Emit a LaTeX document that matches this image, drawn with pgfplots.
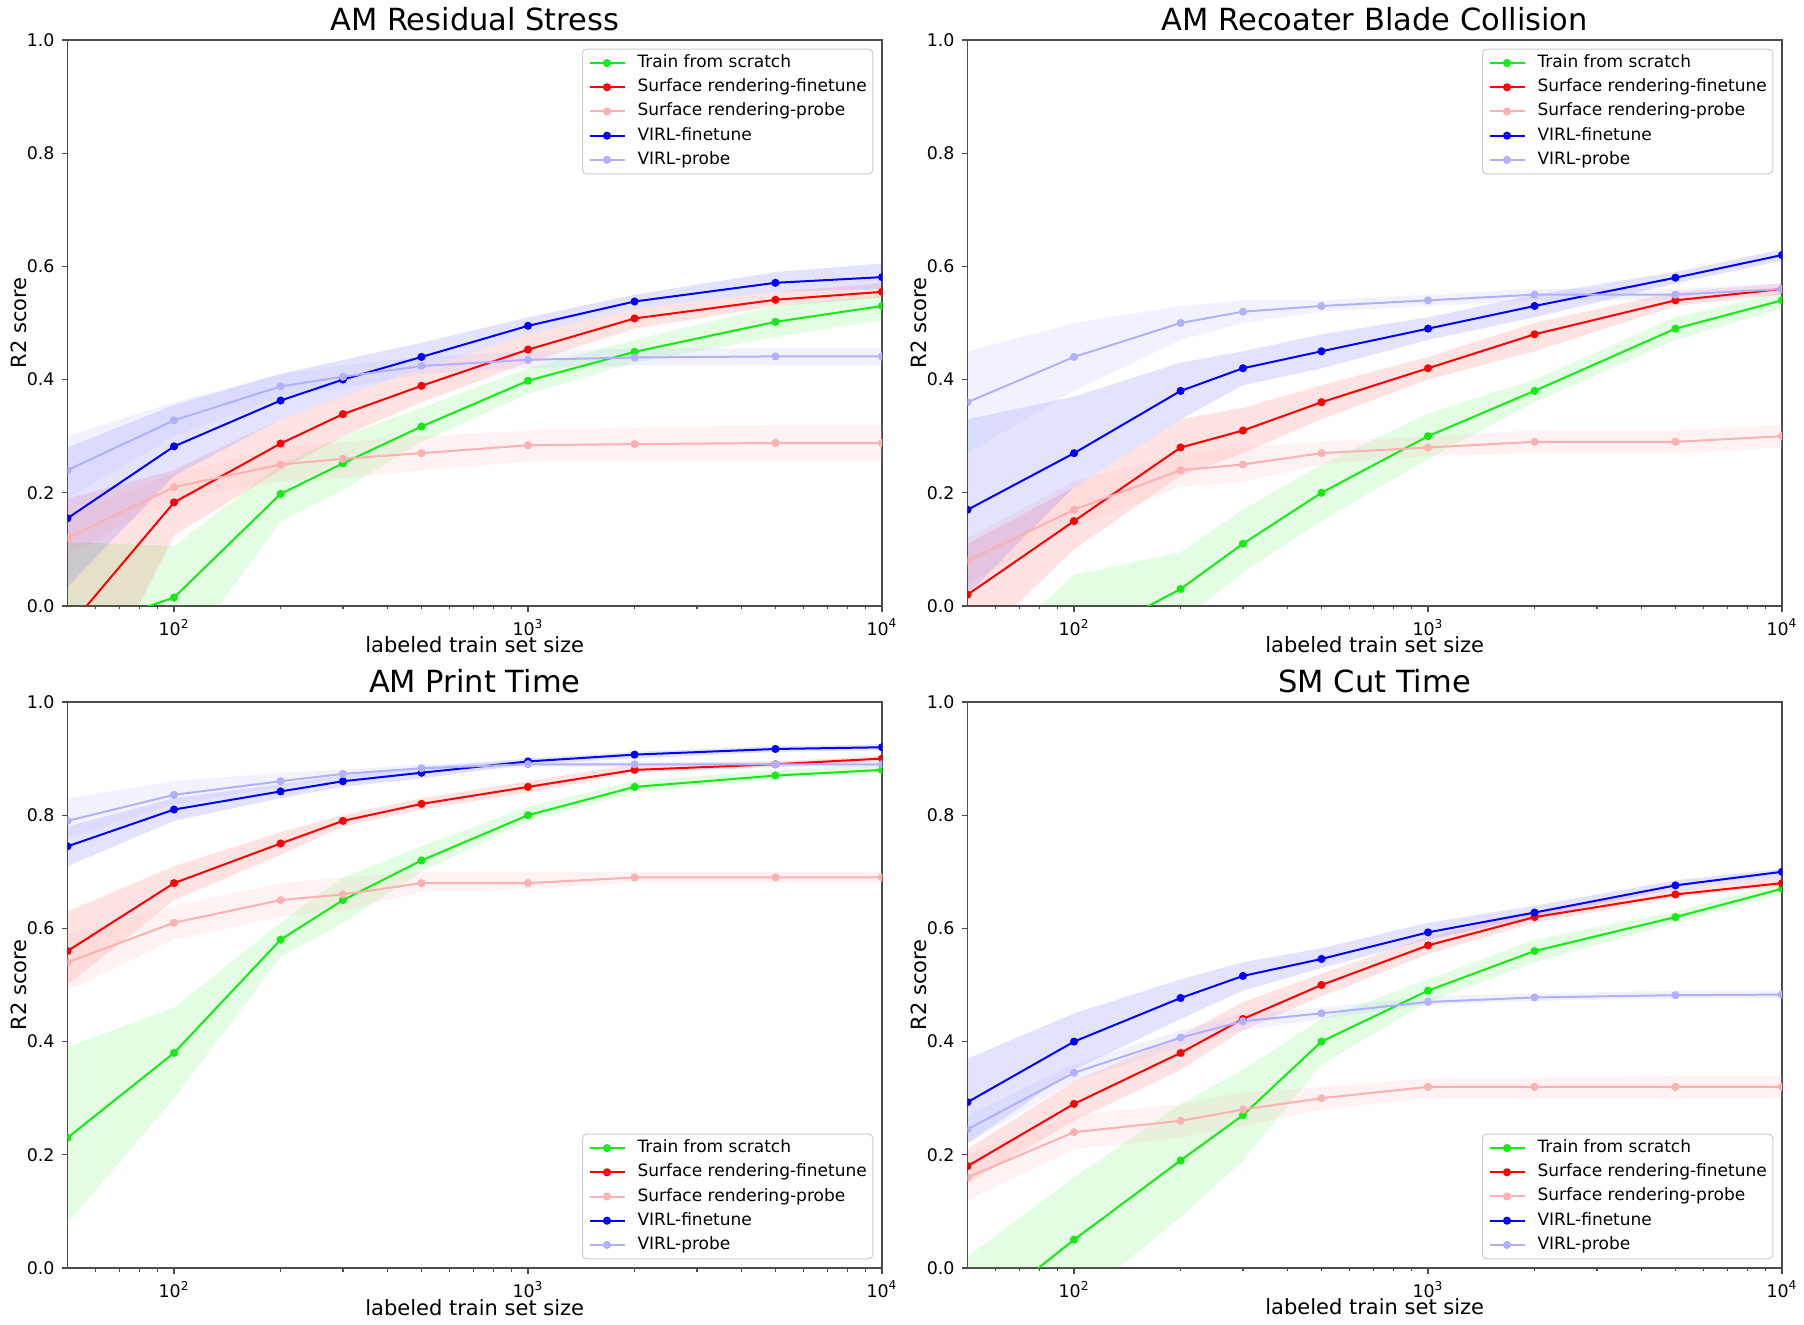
\documentclass[border=0pt]{standalone}
\usepackage{fontspec}
\setmainfont{DejaVu Sans}
\usepackage{pgfplots}
\usepackage{pgfplotstable}
\pgfplotsset{compat=1.18}

\definecolor{tsg}{RGB}{20,235,20}
\definecolor{sfr}{RGB}{255,0,0}
\definecolor{spr}{RGB}{255,176,176}
\definecolor{vfb}{RGB}{0,0,255}
\definecolor{vpb}{RGB}{176,176,255}

% ts = train from scratch, sf = surface rendering-finetune, sp = surface rendering-probe,
% vf = VIRL-finetune, vp = VIRL-probe
% mean tables
\pgfplotstableread{
x ts sf sp vf vp
50 -0.05 -0.04 0.12 0.155 0.24
100 0.015 0.183 0.21 0.282 0.328
200 0.198 0.287 0.25 0.363 0.388
300 0.252 0.339 0.26 0.40 0.405
500 0.317 0.389 0.27 0.44 0.424
1000 0.398 0.453 0.284 0.495 0.435
2000 0.449 0.508 0.286 0.538 0.439
5000 0.502 0.541 0.288 0.571 0.441
10000 0.530 0.555 0.288 0.581 0.441
}\MA
\pgfplotstableread{
x ts sf sp vf vp
50 -0.25 0.02 0.08 0.17 0.36
100 -0.07 0.15 0.17 0.27 0.44
200 0.03 0.28 0.24 0.38 0.50
300 0.11 0.31 0.25 0.42 0.52
500 0.20 0.36 0.27 0.45 0.53
1000 0.30 0.42 0.28 0.49 0.54
2000 0.38 0.48 0.29 0.53 0.55
5000 0.49 0.54 0.29 0.58 0.55
10000 0.54 0.56 0.30 0.62 0.56
}\MB
\pgfplotstableread{
x ts sf sp vf vp
50 0.23 0.56 0.54 0.745 0.79
100 0.38 0.68 0.61 0.81 0.836
200 0.58 0.75 0.65 0.842 0.86
300 0.65 0.79 0.66 0.86 0.873
500 0.72 0.82 0.68 0.875 0.883
1000 0.80 0.85 0.68 0.895 0.89
2000 0.85 0.88 0.69 0.907 0.89
5000 0.87 0.89 0.69 0.917 0.89
10000 0.88 0.90 0.69 0.92 0.89
}\MC
\pgfplotstableread{
x ts sf sp vf vp
50 -0.10 0.18 0.16 0.293 0.245
100 0.05 0.29 0.24 0.40 0.345
200 0.19 0.38 0.26 0.477 0.407
300 0.27 0.44 0.28 0.516 0.436
500 0.40 0.50 0.30 0.546 0.45
1000 0.49 0.57 0.32 0.593 0.47
2000 0.56 0.62 0.32 0.628 0.478
5000 0.62 0.66 0.32 0.676 0.482
10000 0.67 0.68 0.32 0.70 0.483
}\MD

% band tables: upper bound left to right, then lower bound right to left
\pgfplotstableread{
x ts sf sp vf vp
50 0.113 0.19 0.16 0.28 0.30
100 0.106 0.24 0.235 0.355 0.36
200 0.25 0.33 0.28 0.41 0.41
300 0.30 0.37 0.29 0.435 0.425
500 0.35 0.42 0.30 0.465 0.44
1000 0.42 0.48 0.31 0.51 0.45
2000 0.47 0.525 0.315 0.55 0.455
5000 0.53 0.555 0.32 0.59 0.455
10000 0.55 0.57 0.32 0.605 0.455
10000 0.505 0.545 0.255 0.56 0.425
5000 0.475 0.53 0.255 0.555 0.425
2000 0.43 0.49 0.255 0.525 0.425
1000 0.375 0.43 0.255 0.48 0.42
500 0.29 0.36 0.24 0.42 0.41
300 0.205 0.30 0.225 0.37 0.385
200 0.15 0.24 0.22 0.33 0.37
100 -0.11 0.125 0.19 0.23 0.30
50 -0.30 -0.25 0.09 0.034 0.19
}\BA
\pgfplotstableread{
x ts sf sp vf vp
50 -0.12 0.11 0.12 0.33 0.45
100 0.055 0.21 0.22 0.37 0.50
200 0.095 0.33 0.27 0.43 0.53
300 0.17 0.35 0.28 0.45 0.54
500 0.25 0.39 0.29 0.48 0.54
1000 0.34 0.44 0.30 0.51 0.55
2000 0.40 0.50 0.31 0.55 0.56
5000 0.51 0.555 0.31 0.59 0.56
10000 0.555 0.57 0.32 0.63 0.57
10000 0.525 0.55 0.28 0.61 0.55
5000 0.47 0.53 0.27 0.57 0.54
2000 0.36 0.45 0.27 0.51 0.54
1000 0.26 0.40 0.265 0.47 0.53
500 0.15 0.33 0.25 0.42 0.52
300 0.06 0.27 0.22 0.39 0.50
200 -0.03 0.23 0.21 0.33 0.47
100 -0.20 0.10 0.14 0.21 0.38
50 -0.50 -0.08 0.04 0.02 0.27
}\BB
\pgfplotstableread{
x ts sf sp vf vp
50 0.39 0.63 0.59 0.78 0.83
100 0.46 0.71 0.64 0.83 0.86
200 0.61 0.77 0.68 0.855 0.875
300 0.69 0.80 0.69 0.87 0.88
500 0.745 0.83 0.70 0.885 0.89
1000 0.815 0.86 0.70 0.90 0.895
2000 0.86 0.89 0.70 0.912 0.895
5000 0.88 0.895 0.70 0.922 0.895
10000 0.89 0.905 0.70 0.925 0.895
10000 0.875 0.895 0.68 0.915 0.885
5000 0.865 0.885 0.68 0.912 0.885
2000 0.84 0.875 0.68 0.90 0.885
1000 0.79 0.84 0.67 0.89 0.885
500 0.70 0.81 0.665 0.865 0.875
300 0.61 0.78 0.63 0.85 0.865
200 0.55 0.73 0.62 0.83 0.85
100 0.30 0.65 0.58 0.79 0.82
50 0.08 0.50 0.49 0.71 0.76
}\BC
\pgfplotstableread{
x ts sf sp vf vp
50 0.02 0.21 0.20 0.37 0.27
100 0.16 0.33 0.27 0.45 0.36
200 0.29 0.41 0.29 0.51 0.42
300 0.35 0.47 0.31 0.54 0.45
500 0.44 0.52 0.32 0.565 0.46
1000 0.51 0.585 0.335 0.61 0.48
2000 0.58 0.63 0.335 0.64 0.485
5000 0.63 0.67 0.34 0.685 0.49
10000 0.68 0.69 0.34 0.705 0.49
10000 0.66 0.675 0.30 0.69 0.476
5000 0.61 0.655 0.30 0.67 0.476
2000 0.54 0.61 0.30 0.62 0.472
1000 0.47 0.555 0.30 0.58 0.465
500 0.36 0.48 0.28 0.53 0.44
300 0.19 0.42 0.25 0.49 0.42
200 0.09 0.35 0.23 0.44 0.39
100 -0.065 0.26 0.21 0.35 0.33
50 -0.20 0.15 0.12 0.22 0.22
}\BD

\newcommand\band[4]{% table, column, color, opacity
  \addplot[fill=#3, fill opacity=#4, draw=none, forget plot] table[x=x, y=#2]{#1} -- cycle;
}
\newcommand\series[3]{% table, column, color
  \addplot[color=#3, line width=1bp, mark=*, mark size=1.5bp, mark options={solid, fill=#3, draw=#3}] table[x=x, y=#2]{#1};
}
\newcommand\allseries[2]{% mean table, band table
  \band{#2}{ts}{tsg}{0.12}
  \band{#2}{sf}{sfr}{0.11}
  \band{#2}{sp}{spr}{0.16}
  \band{#2}{vf}{vfb}{0.11}
  \band{#2}{vp}{vpb}{0.16}
  \series{#1}{ts}{tsg}
  \series{#1}{sf}{sfr}
  \series{#1}{sp}{spr}
  \series{#1}{vf}{vfb}
  \series{#1}{vp}{vpb}
  \legend{Train from scratch, Surface rendering-finetune, Surface rendering-probe, VIRL-finetune, VIRL-probe}
}

\pgfplotsset{
  scale only axis, width=407.25bp, height=283bp,
  xmin=50, xmax=10000, ymin=0, ymax=1,
  xtick={100,1000,10000},
  xticklabels={10\textsuperscript{2},10\textsuperscript{3},10\textsuperscript{4}},
  minor xtick={60,70,80,90,200,300,400,500,600,700,800,900,2000,3000,4000,5000,6000,7000,8000,9000},
  ytick={0,0.2,0.4,0.6,0.8,1},
  yticklabel style={/pgf/number format/fixed, /pgf/number format/fixed zerofill, /pgf/number format/precision=1},
  /pgf/number format/assume math mode=true,
  tick align=outside, tick pos=left,
  major tick length=3bp, minor tick length=1.75bp,
  axis line style={black!70, line width=0.6bp},
  every tick/.style={black!70, line width=0.6bp},
  ticklabel style={font=\fontsize{8.7bp}{10bp}\selectfont},
  label style={font=\fontsize{10.5bp}{12bp}\selectfont},
  xlabel style={at={(axis description cs:0.5,0)}, anchor=base, yshift=-23.5bp},
  ylabel style={at={(axis description cs:0,0.5)}, anchor=base, yshift=20.75bp},
  title style={font=\fontsize{15.25bp}{18bp}\selectfont, at={(axis description cs:0.5,1)}, anchor=base, yshift=-1.1bp},
  clip marker paths=true,
  legend cell align=left,
  legend image code/.code={\draw[mark repeat=2, mark phase=2, #1] plot coordinates {(0bp,0bp) (8.75bp,0bp) (17.5bp,0bp)};},
  legend style={font=\fontsize{8.5bp}{10bp}\selectfont, draw=black!20, line width=0.5bp, rounded corners=2bp,
    fill=white, fill opacity=0.8, text opacity=1, inner xsep=3bp, inner ysep=2.7bp,
    nodes={inner sep=0pt, text height=6.5bp, text depth=2bp}, row sep=3.6bp, column sep=6bp},
}

\begin{document}
\begin{tikzpicture}
\useasboundingbox (0,0) rectangle (902bp,662.5bp);

\begin{axis}[xmode=log, anchor=south west, at={(33.75bp,359.5bp)}, title={AM Residual Stress},
  xlabel={labeled train set size}, ylabel={R2 score},
  legend style={at={(axis description cs:1,1)}, anchor=north east, xshift=-4.35bp, yshift=-4.35bp}]
\allseries{\MA}{\BA}
\end{axis}

\begin{axis}[xmode=log, anchor=south west, at={(483.75bp,359.5bp)}, title={AM Recoater Blade Collision},
  xlabel={labeled train set size}, ylabel={R2 score},
  legend style={at={(axis description cs:1,1)}, anchor=north east, xshift=-4.35bp, yshift=-4.35bp}]
\allseries{\MB}{\BB}
\end{axis}

\begin{axis}[xmode=log, anchor=south west, at={(33.75bp,28.5bp)}, title={AM Print Time},
  xlabel={labeled train set size}, ylabel={R2 score},
  legend style={at={(axis description cs:1,0)}, anchor=south east, xshift=-4.35bp, yshift=4.35bp}]
\allseries{\MC}{\BC}
\end{axis}

\begin{axis}[xmode=log, anchor=south west, at={(483.75bp,28.5bp)}, title={SM Cut Time},
  xlabel={labeled train set size}, ylabel={R2 score},
  legend style={at={(axis description cs:1,0)}, anchor=south east, xshift=-4.35bp, yshift=4.35bp}]
\allseries{\MD}{\BD}
\end{axis}

\end{tikzpicture}
\end{document}
